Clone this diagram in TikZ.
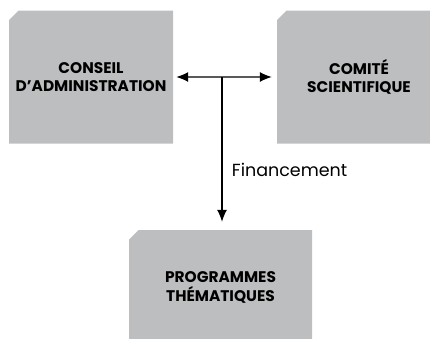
\documentclass[tikz,border=0pt]{standalone}
\usepackage{fontspec}
\setmainfont{Poppins}
\usetikzlibrary{shapes.misc,arrows.meta}
\definecolor{boxgray}{RGB}{189,190,192}
\tikzset{
  >={Latex[length=12pt,width=10pt]},
  x=1pt, y=-1pt,
}
\tikzstyle{organ}=[chamfered rectangle, chamfered rectangle corners=north west,
  chamfered rectangle xsep=6pt, fill=boxgray, inner sep=0pt,
  align=center, font=\bfseries\fontsize{15.4}{18.5}\selectfont]
\tikzstyle{link}=[line width=1.2pt]

\begin{document}
\begin{tikzpicture}
    \useasboundingbox (0,0) rectangle (430,338);
    \node[organ, minimum width=164pt, minimum height=133pt] (conseil) at (91,77) {CONSEIL\\D'ADMINISTRATION};
    \node[organ, minimum width=164pt, minimum height=133pt] (comite) at (359,77) {COMITÉ\\SCIENTIFIQUE};
    \node[organ, minimum width=183pt, minimum height=115pt] (programmes) at (220.5,287.5) {PROGRAMMES\\THÉMATIQUES};
    \coordinate (fork) at (222,77);
    \draw[link,<->,shorten <=3pt,shorten >=5pt] (conseil) -- (comite);
    \draw[link,->,shorten >=8pt] (fork) -- (fork |- programmes.north)
      node[pos=.61,right=6pt,font=\fontsize{17.5}{20}\selectfont]{Financement};
  \end{tikzpicture}
\end{document}
